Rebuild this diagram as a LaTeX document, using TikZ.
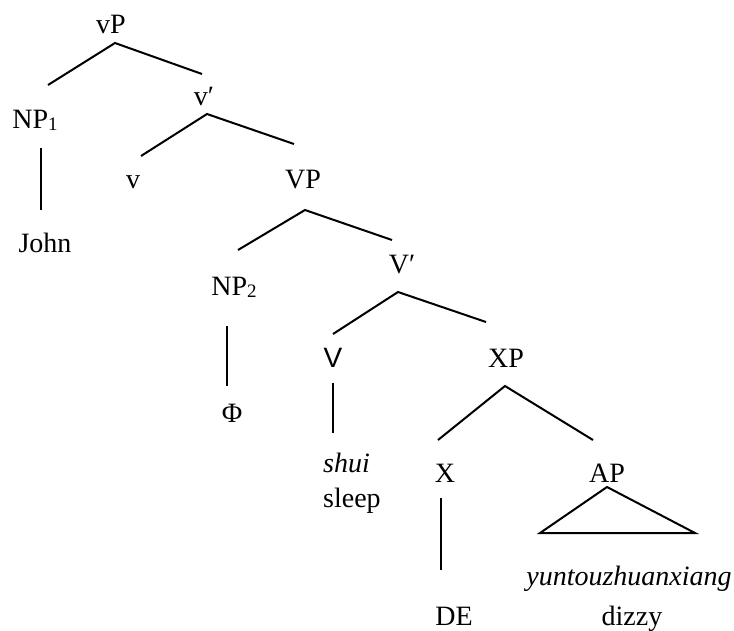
\documentclass[tikz,border=0pt]{standalone}
\usepackage{fontspec}
\setmainfont{Liberation Serif}
\newfontfamily\lsans{Liberation Sans}
\newcommand{\sbs}[1]{\raisebox{-0.22ex}{\fontsize{19}{20}\selectfont #1}}
\begin{document}
\begin{tikzpicture}[x=1pt,y=-1pt,
  lbl/.style={anchor=base,inner sep=0pt,font=\fontsize{28}{32}\selectfont},
  lblw/.style={anchor=base west,inner sep=0pt,font=\fontsize{28}{32}\selectfont},
  edge/.style={line width=2pt,line cap=butt}]
\useasboundingbox (0,0) rectangle (734,630);
% labels
\node[lbl] (vP) at (111,33) {vP};
\node[lbl] (NP1) at (35,128) {NP\sbs{1}};
\node[lbl] (John) at (45,252) {John};
\node[lbl] (vbar) at (204,105) {v\char"2032};
\node[lbl] (v) at (133,188) {v};
\node[lbl] (VP) at (303,188) {VP};
\node[lbl] (NP2) at (234,295) {NP\sbs{2}};
\node[lbl] (Phi) at (232,422) {Φ};
\node[lbl] (Vbar) at (402,273) {V\char"2032};
\node[lbl] (V) at (333,367) {\lsans V};
\node[lblw] (shui) at (323,472) {\itshape shui};
\node[lblw] (sleep) at (323,507) {sleep};
\node[lbl] (XP) at (506,367) {XP};
\node[lbl] (X) at (445,482) {X};
\node[lbl] (DE) at (454,625) {DE};
\node[lbl] (AP) at (607,482) {AP};
\node[lbl] (yun) at (629,585) {\itshape yuntouzhuanxiang};
\node[lbl] (dizzy) at (632,625) {dizzy};
% branch points
\coordinate (vPb) at (115,43);
\coordinate (NP1t) at (48,85);
\coordinate (vbart) at (202,74);
\coordinate (NP1b) at (41,148);
\coordinate (Johnt) at (41,210);
\coordinate (vbarb) at (207,114);
\coordinate (vt) at (141,156);
\coordinate (VPt) at (294,144);
\coordinate (VPb) at (305,210);
\coordinate (NP2t) at (238,250);
\coordinate (Vbart) at (392,240);
\coordinate (NP2b) at (227,326);
\coordinate (Phit) at (227,386);
\coordinate (Vbarb) at (398,292);
\coordinate (Vt) at (333,334);
\coordinate (XPt) at (486,322);
\coordinate (Vb) at (333,383);
\coordinate (shuit) at (333,433);
\coordinate (XPb) at (505,386);
\coordinate (Xt) at (438,440);
\coordinate (APt) at (593,440);
\coordinate (Xb) at (441,498);
\coordinate (DEt) at (441,570);
\coordinate (APb) at (607,487);
\coordinate (triL) at (540,533);
\coordinate (triR) at (695,533);
% edges
\draw[edge] (NP1t) -- (vPb) -- (vbart);
\draw[edge] (NP1b) -- (Johnt);
\draw[edge] (vt) -- (vbarb) -- (VPt);
\draw[edge] (NP2t) -- (VPb) -- (Vbart);
\draw[edge] (NP2b) -- (Phit);
\draw[edge] (Vt) -- (Vbarb) -- (XPt);
\draw[edge] (Vb) -- (shuit);
\draw[edge] (Xt) -- (XPb) -- (APt);
\draw[edge] (Xb) -- (DEt);
\draw[edge,line join=miter] (APb) -- (triR) -- (triL) -- cycle;
\end{tikzpicture}
\end{document}
